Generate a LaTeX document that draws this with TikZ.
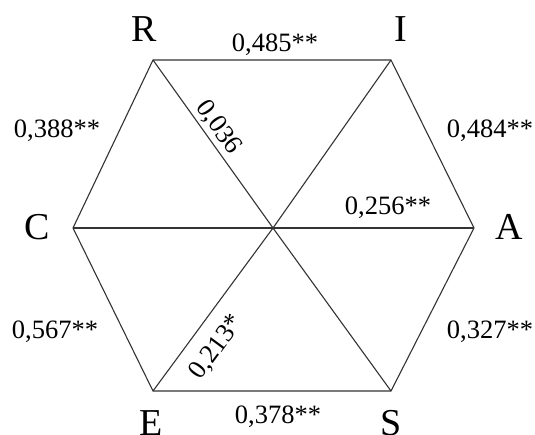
\documentclass[tikz,border=0pt]{standalone}
\usepackage{fontspec}
\setmainfont{Liberation Serif}
\begin{document}
\begin{tikzpicture}[x=1pt,y=-1pt,
  edge/.style={draw=black!80,line width=1.1pt},
  vlab/.style={inner sep=0pt,anchor=base,font=\fontsize{38}{38}\selectfont},
  nlab/.style={inner sep=0pt,anchor=base,font=\fontsize{26.5}{26.5}\selectfont},
  slab/.style={sloped,font=\fontsize{26.5}{26.5}\selectfont}]
\useasboundingbox (0,0) rectangle (535,435);
\coordinate (R) at (153,60);
\coordinate (I) at (391,60);
\coordinate (A) at (474,228);
\coordinate (S) at (391,391);
\coordinate (E) at (153,391);
\coordinate (C) at (73,228);
\coordinate (O) at (273,228);
\draw[edge] (R) -- (I) -- (A) -- (S) -- (E) -- (C) -- cycle;
\draw[edge] (R) -- node[pos=0.45,slab,above,inner sep=2.5pt] (l036) {0,036} (O) -- (S);
\draw[edge] (E) -- node[pos=0.36,slab,below,inner sep=14pt] (l213) {0,213*} (O) -- (I);
\draw[edge] (C) -- (O) -- (A);
\node[vlab] (lR) at (144,42) {R};
\node[vlab] (lI) at (401,42) {I};
\node[vlab] (lC) at (37.5,240) {C};
\node[vlab] (lA) at (509,240) {A};
\node[vlab] (lE) at (151,435) {E};
\node[vlab] (lS) at (391,435) {S};
\node[nlab] (n485) at (275,52) {0,485**};
\node[nlab] (n388) at (57,138) {0,388**};
\node[nlab] (n484) at (490,138) {0,484**};
\node[nlab] (n256) at (388,215) {0,256**};
\node[nlab] (n567) at (55,338) {0,567**};
\node[nlab] (n327) at (490,338) {0,327**};
\node[nlab] (n378) at (278,423) {0,378**};
\end{tikzpicture}
\end{document}
